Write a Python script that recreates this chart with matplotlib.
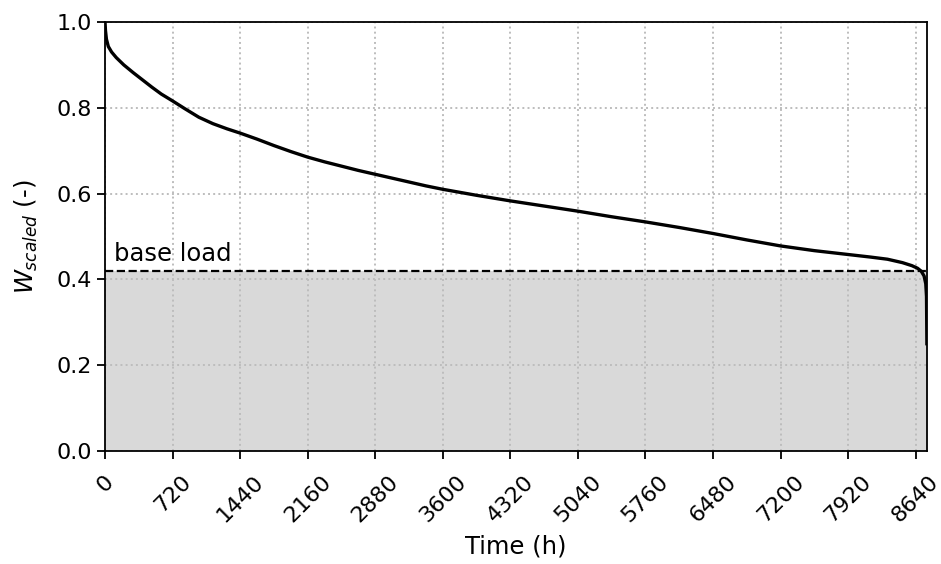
import matplotlib
matplotlib.use("Agg")
import matplotlib.pyplot as plt

# Sorted load duration curve (hours of the year vs. scaled load)
hours = [0, 5, 15, 35, 70, 120, 200, 300, 400, 500, 600, 720, 850, 1000, 1150,
         1300, 1440, 1620, 1800, 1980, 2160, 2340, 2520, 2700, 2880, 3060, 3240,
         3420, 3600, 3960, 4320, 4680, 5040, 5400, 5760, 6120, 6480, 6840, 7200,
         7560, 7920, 8160, 8340, 8500, 8600, 8660, 8700, 8730, 8748, 8756, 8760]
w_scaled = [1.0, 0.98, 0.96, 0.943, 0.930, 0.917, 0.900, 0.882, 0.865, 0.848,
            0.832, 0.816, 0.798, 0.778, 0.763, 0.751, 0.741, 0.727, 0.712, 0.698,
            0.685, 0.674, 0.664, 0.654, 0.645, 0.636, 0.627, 0.618, 0.610, 0.596,
            0.583, 0.571, 0.559, 0.546, 0.534, 0.521, 0.507, 0.492, 0.478, 0.467,
            0.458, 0.452, 0.447, 0.439, 0.432, 0.426, 0.419, 0.408, 0.39, 0.36,
            0.25]
base_load = 0.42
base_label = "base load"
x_ticks = list(range(0, 8641, 720))
y_ticks = [0.0, 0.2, 0.4, 0.6, 0.8, 1.0]

fig = plt.figure(figsize=(9.41, 5.64), dpi=100)
ax = fig.add_axes([0.1116, 0.2004, 0.8734, 0.7606])

ax.fill_between([0, 8760], [base_load, base_load], 0, color="#d9d9d9", zorder=1, linewidth=0)
ax.axhline(base_load, color="black", linestyle="--", linewidth=1.6, zorder=2)
ax.plot(hours, w_scaled, color="black", linewidth=2.4, zorder=3,
        solid_joinstyle="round")
ax.text(100, base_load + 0.012, base_label, fontsize=17.5, ha="left", va="bottom")

ax.set_xlim(0, 8760)
ax.set_ylim(0, 1.0)
ax.set_xticks(x_ticks)
ax.set_xticklabels([str(t) for t in x_ticks], rotation=45, ha="center")
ax.set_yticks(y_ticks)
ax.set_yticklabels([f"{t:.1f}" for t in y_ticks])
ax.tick_params(labelsize=16, length=6, width=1.3)
ax.tick_params(axis="x", pad=9)
for s in ax.spines.values():
    s.set_linewidth(1.3)
ax.grid(True, linestyle=":", color="#bdbdbd", linewidth=1.4, zorder=1.5)

ax.set_xlabel("Time (h)", fontsize=17.5, labelpad=6)
ax.set_ylabel(r"$W_{scaled}$ (-)", fontsize=17.5, labelpad=12)

fig.savefig("out.png", dpi=100)
